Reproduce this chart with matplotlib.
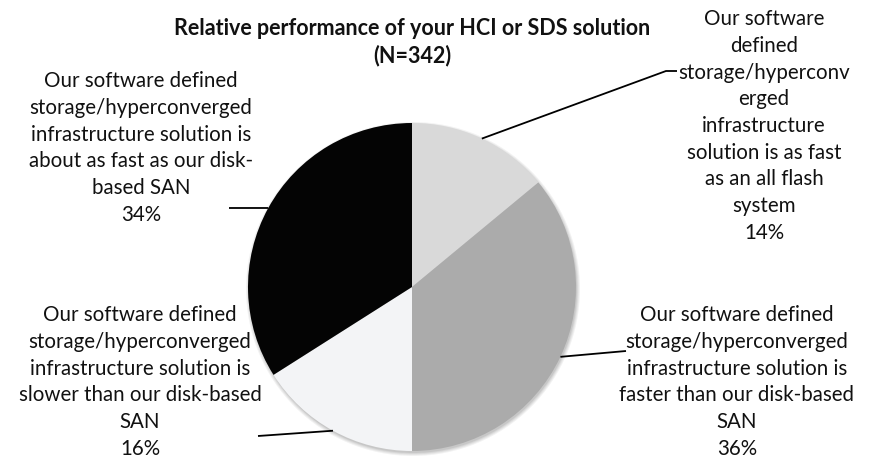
import numpy as np
import matplotlib
matplotlib.use("Agg")
import matplotlib.pyplot as plt
from matplotlib.patches import Circle

# ---- data -------------------------------------------------------------
title = "Relative performance of your HCI or SDS solution\n(N=342)"
shares = [14, 36, 16, 34]
slice_colors = ["#d9d9d9", "#ababab", "#f3f4f6", "#040404"]
labels = [
    "Our software\ndefined\nstorage/hyperconv\nerged\ninfrastructure\nsolution is as fast\nas an all flash\nsystem\n14%",
    "Our software defined\nstorage/hyperconverged\ninfrastructure solution is\nfaster than our disk-based\nSAN\n36%",
    "Our software defined\nstorage/hyperconverged\ninfrastructure solution is\nslower than our disk-based\nSAN\n16%",
    "Our software defined\nstorage/hyperconverged\ninfrastructure solution is\nabout as fast as our disk-\nbased SAN\n34%",
]

# ---- layout (pixel space, y measured from the top) ---------------------
W, H = 870, 460
CX, CY, R = 412, 288, 164
label_pos = [(764, 126), (737, 382), (140, 382), (141, 148)]   # block centres
leader_end = [[(666, 72), (677, 72)], [(626, 352)], [(258, 437)], [(229, 209)]]

plt.rcParams["font.family"] = ["Lato", "DejaVu Sans"]

fig = plt.figure(figsize=(W / 100, H / 100), dpi=100)
ax = fig.add_axes([0, 0, 1, 1])

# soft shadow beneath the pie
for i, a in enumerate([0.05, 0.05, 0.06, 0.07]):
    ax.add_patch(Circle((CX + 1, H - CY - 2), R + 3 - i, color="black", alpha=a,
                        lw=0, zorder=0))

wedges, _ = ax.pie(shares, colors=slice_colors, startangle=90, counterclock=False,
                   center=(CX, H - CY), radius=R, wedgeprops=dict(lw=0))
for w in wedges:
    w.set_zorder(2)

# labels and leader lines from each wedge's mid-angle
for w, txt, (lx, ly), ends in zip(wedges, labels, label_pos, leader_end):
    mid = np.deg2rad((w.theta1 + w.theta2) / 2)
    x0 = CX + R * np.cos(mid)
    y0 = (H - CY) + R * np.sin(mid)
    xs = [x0] + [e[0] for e in ends]
    ys = [y0] + [H - e[1] for e in ends]
    ax.plot(xs, ys, color="black", lw=1.3, zorder=3, solid_capstyle="butt")
    ax.text(lx, H - ly, txt, ha="center", va="center", fontsize=14.8,
            linespacing=1.42, color="#111111", zorder=4)

ax.text(412, H - 42, title, ha="center", va="center", fontsize=15.5,
        fontweight="bold", linespacing=1.3, color="#111111")

ax.set_xlim(0, W)
ax.set_ylim(0, H)
ax.set_aspect("equal")
ax.axis("off")

fig.savefig("out.png", dpi=100)
